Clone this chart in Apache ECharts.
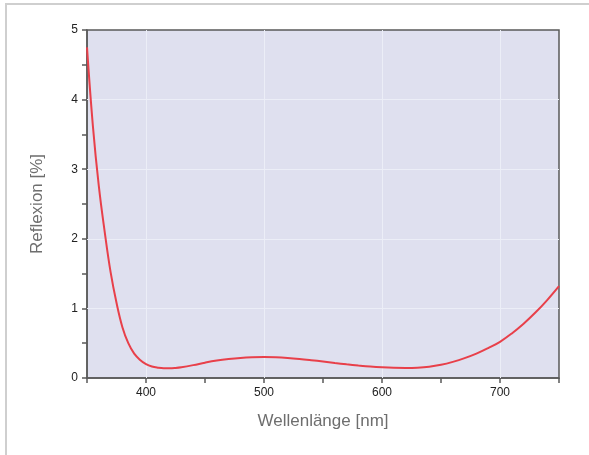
<!DOCTYPE html>
<html><head><meta charset="utf-8">
<script src="https://cdn.jsdelivr.net/npm/echarts@6/dist/echarts.min.js"></script>
<style>html,body{margin:0;padding:0;background:#fff}#c{width:589px;height:455px}</style>
</head><body><div id="c"></div>
<script>
const wavelengths = [350,355,360,365,370,375,380,385,390,395,400,405,410,415,420,425,430,440,450,460,470,480,490,500,510,520,530,540,550,560,570,580,590,600,610,620,630,640,650,660,670,680,690,700,710,720,730,740,750];
const reflexion = [4.75,3.62,2.76,2.10,1.52,1.08,0.73,0.50,0.35,0.26,0.20,0.165,0.148,0.14,0.14,0.145,0.155,0.185,0.22,0.25,0.272,0.288,0.297,0.30,0.297,0.288,0.274,0.256,0.236,0.215,0.196,0.179,0.164,0.153,0.146,0.144,0.148,0.162,0.19,0.232,0.285,0.35,0.43,0.52,0.64,0.78,0.94,1.12,1.32];
const xTicks = [400,500,600,700];
const yTicks = [0,1,2,3,4,5];
const gridX = [400,500,600,700];
const gridY = [1,2,3,4];

const chart = echarts.init(document.getElementById('c'));
chart.setOption({
  animation: false,
  graphic: [{type:'rect', shape:{x:6,y:4,width:700,height:600}, style:{fill:'none', stroke:'#cfcfcf', lineWidth:2}, silent:true}],
  grid: {left:87, right:30, top:30, bottom:77, show:true, backgroundColor:'#dfe0ef', borderColor:'#5a5a5a', borderWidth:1.5},
  xAxis: {
    type:'value', min:350, max:750, interval:50,
    name:'Wellenlänge [nm]', nameLocation:'middle', nameGap:35,
    nameTextStyle:{fontFamily:'Liberation Sans', fontSize:17, color:'#6e6e6e'},
    axisLine:{show:true, lineStyle:{color:'#5a5a5a', width:1.5}},
    axisTick:{show:true, length:5, lineStyle:{color:'#5a5a5a', width:1.5}},
    axisLabel:{fontFamily:'Liberation Sans', fontSize:12, color:'#222', margin:9,
      formatter: v => xTicks.indexOf(v) >= 0 ? String(v) : ''},
    splitLine:{show:false}
  },
  yAxis: {
    type:'value', min:0, max:5, interval:0.5,
    name:'Reflexion [%]', nameLocation:'middle', nameGap:41,
    nameTextStyle:{fontFamily:'Liberation Sans', fontSize:17, color:'#6e6e6e'},
    axisLine:{show:true, lineStyle:{color:'#5a5a5a', width:1.5}},
    axisTick:{show:true, length:5, lineStyle:{color:'#5a5a5a', width:1.5}},
    axisLabel:{fontFamily:'Liberation Sans', fontSize:12, color:'#222', margin:9,
      formatter: v => yTicks.indexOf(v) >= 0 ? String(v) : ''},
    splitLine:{show:false}
  },
  series: [{
    type:'line', smooth:0.4, showSymbol:false, z:3,
    data: wavelengths.map((w,i)=>[w, reflexion[i]]),
    lineStyle:{color:'#e8404a', width:2},
    markLine:{
      silent:true, symbol:['none','none'], label:{show:false}, z:1,
      lineStyle:{color:'#eceef7', width:1, type:'solid'},
      data: gridX.map(v=>({xAxis:v})).concat(gridY.map(v=>({yAxis:v})))
    }
  }]
});
</script></body></html>
